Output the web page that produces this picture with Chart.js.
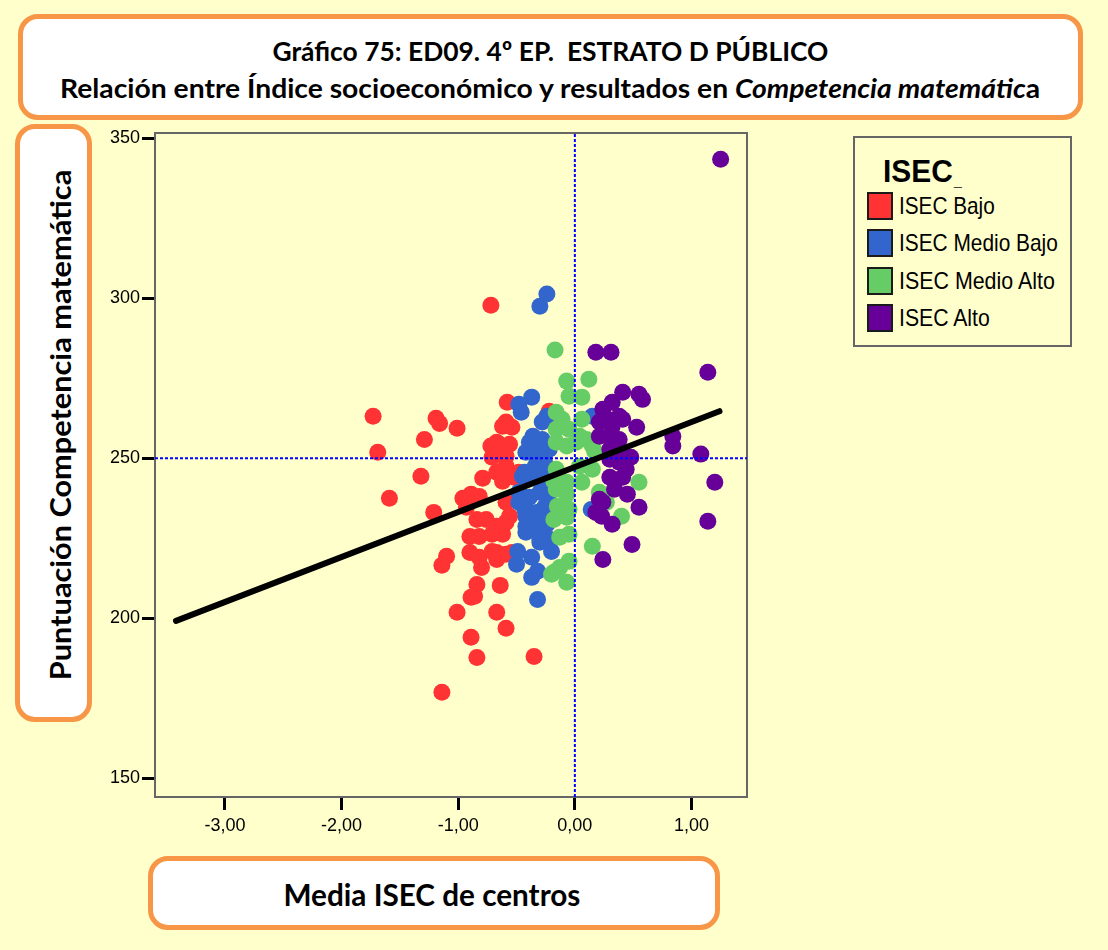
<!DOCTYPE html>
<html>
<head>
<meta charset="utf-8">
<script src="https://cdn.jsdelivr.net/npm/chart.js@4.4.1/dist/chart.umd.min.js"></script>
<style>
html,body{margin:0;padding:0;background:#FFFFCC;}
#wrap{position:relative;width:1108px;height:950px;overflow:hidden;background:#FFFFCC;}
#c{position:absolute;left:0;top:0;}
.box{position:absolute;box-sizing:border-box;border:5px solid #F79646;border-radius:20px;background:#fff;}
.t{position:absolute;white-space:pre;font-family:Lato,'Open Sans',sans-serif;font-weight:bold;color:#000;line-height:1;}
.lg{position:absolute;box-sizing:border-box;border:2px solid #666;background:#FFFFCC;}
.sw{position:absolute;box-sizing:border-box;border:2px solid #1a1a1a;width:26px;height:28px;}
.lt{position:absolute;white-space:pre;font-family:'Liberation Sans',Arial,sans-serif;color:#000;line-height:1;font-size:24px;}
</style>
</head>
<body>
<div id="wrap">
  <canvas id="c" width="1108" height="950"></canvas>
  <div class="box" style="left:18px;top:14px;width:1065px;height:106px;"></div>
  <div class="box" style="left:15px;top:124px;width:77px;height:598px;"></div>
  <div class="box" style="left:148px;top:856px;width:572px;height:74px;"></div>
  <span class="t" id="t1" style="font-size:27px;">Gráfico 75: ED09. 4º EP.  ESTRATO D PÚBLICO</span>
  <span class="t" id="t2" style="font-size:27px;">Relación entre Índice socioeconómico y resultados en <i>Competencia matemátic</i>a</span>
  <span class="t" id="ty" style="font-size:28px;">Puntuación Competencia matemática</span>
  <span class="t" id="tx" style="font-size:30px;">Media ISEC de centros</span>
  <div class="lg" style="left:853px;top:136px;width:219px;height:211px;"></div>
  <span class="lt" id="lgt" style="font-weight:bold;font-size:32px;">ISEC</span>
  <span class="lt" id="lgu" style="font-size:14px;color:#444;">_</span>
  <div id="legendItems"></div>
</div>
<script>
// ---- data ----
const categories = ['ISEC Bajo', 'ISEC Medio Bajo', 'ISEC Medio Alto', 'ISEC Alto'];
const colors = ['#FF3333', '#3366CC', '#66CC66', '#660099'];

const bajo = [
  [-0.72,297.8],[-1.73,263.1],[-1.69,251.9],[-1.19,262.5],[-1.16,260.9],[-1.01,259.4],
  [-1.29,255.9],[-1.32,244.4],[-1.59,237.5],[-1.21,233.1],[-1.10,219.4],[-1.14,216.6],
  [-0.96,237.5],[-0.89,238.8],[-0.82,238.1],[-0.93,234.7],[-0.84,230.9],[-0.76,230.9],
  [-0.90,225.6],[-0.82,225.6],[-0.71,226.3],[-0.62,226.3],[-0.90,220.6],[-0.82,219.1],
  [-0.71,220.9],[-0.67,218.4],[-0.80,215.9],[-0.84,210.6],[-0.89,206.6],[-0.86,206.9],
  [-0.64,210.3],[-1.01,201.9],[-0.67,201.9],[-0.59,196.9],[-0.89,194.1],[-0.84,187.8],
  [-1.14,176.9],[-0.35,188.1],[-0.79,243.8],[-0.67,245.6],[-0.62,242.8],[-0.59,247.5],
  [-0.72,253.8],[-0.65,254.4],[-0.56,254.4],[-0.71,250.3],[-0.59,250.6],[-0.59,236.3],
  [-0.56,231.9],[-0.62,228.8],[-0.48,245.6],[-0.54,220.6],[-0.58,267.5],[-0.59,261.3],
  [-0.62,260.0],[-0.54,259.7],[-0.22,264.7],[-0.52,244.1],[-0.67,255.0],[-0.56,245.6],
  [-0.67,228.8],[-0.59,230.0],[-0.67,220.6],[-0.59,220.0]
];
const medioBajo = [
  [-0.24,301.3],[-0.30,297.5],[-0.37,269.1],[-0.48,266.9],[-0.46,264.4],[-0.28,261.3],
  [-0.24,263.1],[-0.36,256.9],[-0.39,255.0],[-0.28,255.9],[-0.42,251.9],[-0.33,250.6],
  [-0.22,252.8],[0.15,263.1],[-0.43,245.6],[-0.36,244.4],[-0.45,244.4],[-0.48,239.4],
  [-0.39,237.8],[-0.30,239.4],[-0.24,238.1],[-0.43,234.1],[-0.33,233.1],[-0.26,234.7],
  [-0.42,228.8],[-0.33,228.4],[-0.24,229.4],[-0.42,226.9],[-0.30,224.7],[-0.22,224.7],
  [-0.49,220.9],[-0.37,219.1],[-0.20,220.9],[-0.50,216.9],[-0.32,214.7],[-0.37,212.8],
  [-0.32,205.9],[0.14,234.0],[-0.30,253.8],[-0.28,246.6],[-0.24,242.5],[-0.48,236.3],
  [-0.22,236.3],[-0.42,231.9],[-0.30,230.9],[-0.30,223.8],[-0.34,247.5],[-0.26,249.0]
];
const medioAlto = [
  [-0.17,283.8],[-0.07,274.1],[0.12,274.7],[-0.05,269.4],[0.06,269.1],[-0.16,264.4],
  [-0.11,262.2],[0.06,262.2],[-0.16,259.1],[-0.05,259.1],[0.04,256.9],[-0.16,255.0],
  [-0.07,253.8],[0.01,255.0],[0.10,255.9],[0.15,253.8],[-0.16,246.6],[0.04,247.5],
  [0.15,246.6],[0.17,252.2],[-0.07,242.5],[0.06,242.5],[0.55,242.5],[0.21,239.4],
  [-0.15,235.0],[-0.05,234.1],[-0.18,230.9],[-0.07,231.6],[0.40,231.9],[-0.13,225.3],
  [-0.05,226.3],[0.15,222.5],[-0.05,217.8],[-0.18,214.4],[-0.13,215.9],[-0.07,211.3],
  [-0.18,242.8],[-0.16,240.3],[0.27,236.3],[-0.07,238.8],[-0.20,213.8]
];
const alto = [
  [1.25,343.4],[0.18,283.1],[0.31,283.1],[1.14,276.9],[0.41,270.6],[0.55,270.0],
  [0.58,268.4],[0.32,267.5],[0.24,265.3],[0.38,263.1],[0.21,261.3],[0.32,260.0],
  [0.41,262.2],[0.53,259.7],[0.30,256.9],[0.38,255.9],[0.21,256.9],[0.84,256.9],
  [0.84,253.8],[0.30,252.8],[0.38,251.9],[0.48,250.3],[1.08,251.3],[0.30,249.7],
  [0.38,248.8],[0.30,244.1],[0.41,244.1],[0.34,240.3],[0.45,238.8],[0.21,237.2],
  [0.24,236.3],[0.55,234.7],[0.23,231.9],[0.32,229.4],[1.20,242.5],[1.14,230.3],
  [0.49,223.1],[0.24,218.4],[0.44,246.6],[0.28,262.2],[0.18,233.1]
];
const fitLine = [[-3.42,199.2],[1.24,264.7]];
const meanX = 0;
const meanY = 250;
const xTickValues = [-3, -2, -1, 0, 1];
const xTickLabels = ['-3,00', '-2,00', '-1,00', '0,00', '1,00'];
const yTickValues = [150, 200, 250, 300, 350];
const yTickLabels = ['150', '200', '250', '300', '350'];

// ---- chart ----
const X_MIN = -3.6, X_MAX = 1.476, Y_MIN = 144.2, Y_MAX = 351.6;
const toXY = a => a.map(([x, y]) => ({x, y}));
const groups = [bajo, medioBajo, medioAlto, alto];

const scatterSets = groups.map((g, i) => ({
  label: categories[i], data: toXY(g), backgroundColor: colors[i],
  borderWidth: 0, pointRadius: 8.5, pointHoverRadius: 8.5, order: 5 - i
}));

const framePlugin = {
  id: 'frame',
  beforeDatasetsDraw(chart) {
    const a = chart.chartArea, c = chart.ctx;
    c.save(); c.strokeStyle = '#666'; c.lineWidth = 2;
    c.strokeRect(a.left, a.top, a.right - a.left, a.bottom - a.top);
    c.restore();
  }
};

const tickFont = {family: "'Liberation Sans', Arial, sans-serif", size: 18};

new Chart(document.getElementById('c'), {
  type: 'scatter',
  data: {
    datasets: [
      {label: 'fit', data: toXY(fitLine), showLine: true, borderColor: '#000', borderWidth: 6,
       pointRadius: 0, order: 0, borderCapStyle: 'round'},
      {label: 'meanX', data: [{x: meanX, y: Y_MIN}, {x: meanX, y: Y_MAX}], showLine: true,
       borderColor: '#0000FF', borderWidth: 2, borderDash: [3, 2], pointRadius: 0, order: 1},
      {label: 'meanY', data: [{x: X_MIN, y: meanY}, {x: X_MAX, y: meanY}], showLine: true,
       borderColor: '#0000FF', borderWidth: 2, borderDash: [3, 2], pointRadius: 0, order: 1},
      ...scatterSets
    ]
  },
  options: {
    responsive: false, animation: false, events: [],
    layout: {padding: {left: 0, top: 133, right: 361, bottom: 93}},
    plugins: {legend: {display: false}, tooltip: {enabled: false}, title: {display: false}},
    scales: {
      x: {
        type: 'linear', min: X_MIN, max: X_MAX,
        afterBuildTicks: s => { s.ticks = xTickValues.map(v => ({value: v})); },
        afterFit: s => { s.height = 60; },
        grid: {display: true, drawOnChartArea: false, drawTicks: true, tickLength: 13, tickWidth: 3, tickColor: '#000'},
        border: {display: false},
        ticks: {color: '#000', font: tickFont, padding: 5, maxRotation: 0, autoSkip: false,
          callback: v => xTickLabels[xTickValues.indexOf(v)]}
      },
      y: {
        type: 'linear', min: Y_MIN, max: Y_MAX,
        afterBuildTicks: s => { s.ticks = yTickValues.map(v => ({value: v})); },
        afterFit: s => { s.width = 155; },
        grid: {display: true, drawOnChartArea: false, drawTicks: true, tickLength: 13, tickWidth: 3, tickColor: '#000'},
        border: {display: false},
        ticks: {color: '#000', font: tickFont, padding: 2, autoSkip: false,
          callback: v => yTickLabels[yTickValues.indexOf(v)]}
      }
    }
  },
  plugins: [framePlugin]
});

// ---- legend (HTML) ----
const legendRows = [206, 243, 281, 318];
const li = document.getElementById('legendItems');
categories.forEach((name, i) => {
  const sw = document.createElement('div');
  sw.className = 'sw';
  sw.style.left = '867px'; sw.style.top = (legendRows[i] - 14) + 'px';
  sw.style.background = colors[i];
  li.appendChild(sw);
  const t = document.createElement('span');
  t.className = 'lt'; t.id = 'lg' + i; t.textContent = name;
  li.appendChild(t);
});

// ---- place and fit texts ----
function place(id, cx, cy, w, rot, anchorLeft) {
  const el = document.getElementById(id);
  const k = w ? w / el.offsetWidth : 1;
  const h = el.offsetHeight;
  if (anchorLeft) {
    el.style.left = cx + 'px'; el.style.top = (cy - h / 2) + 'px';
    el.style.transformOrigin = '0 50%';
    el.style.transform = 'scaleX(' + k + ')';
  } else {
    el.style.left = (cx - el.offsetWidth / 2) + 'px';
    el.style.top = (cy - h / 2) + 'px';
    el.style.transformOrigin = '50% 50%';
    el.style.transform = (rot ? 'rotate(' + rot + 'deg) ' : '') + 'scaleX(' + k + ')';
  }
}
place('t1', 550, 50, 556);
place('t2', 550, 87, 980);
place('ty', 59, 425, 510, -90);
place('tx', 432, 894, 297);
place('lgt', 883, 171, 70, 0, true);
place('lgu', 954, 180, 0, 0, true);
const legendWidths = [96, 159, 156, 91];
categories.forEach((n, i) => place('lg' + i, 899, legendRows[i], legendWidths[i], 0, true));
</script>
</body>
</html>
